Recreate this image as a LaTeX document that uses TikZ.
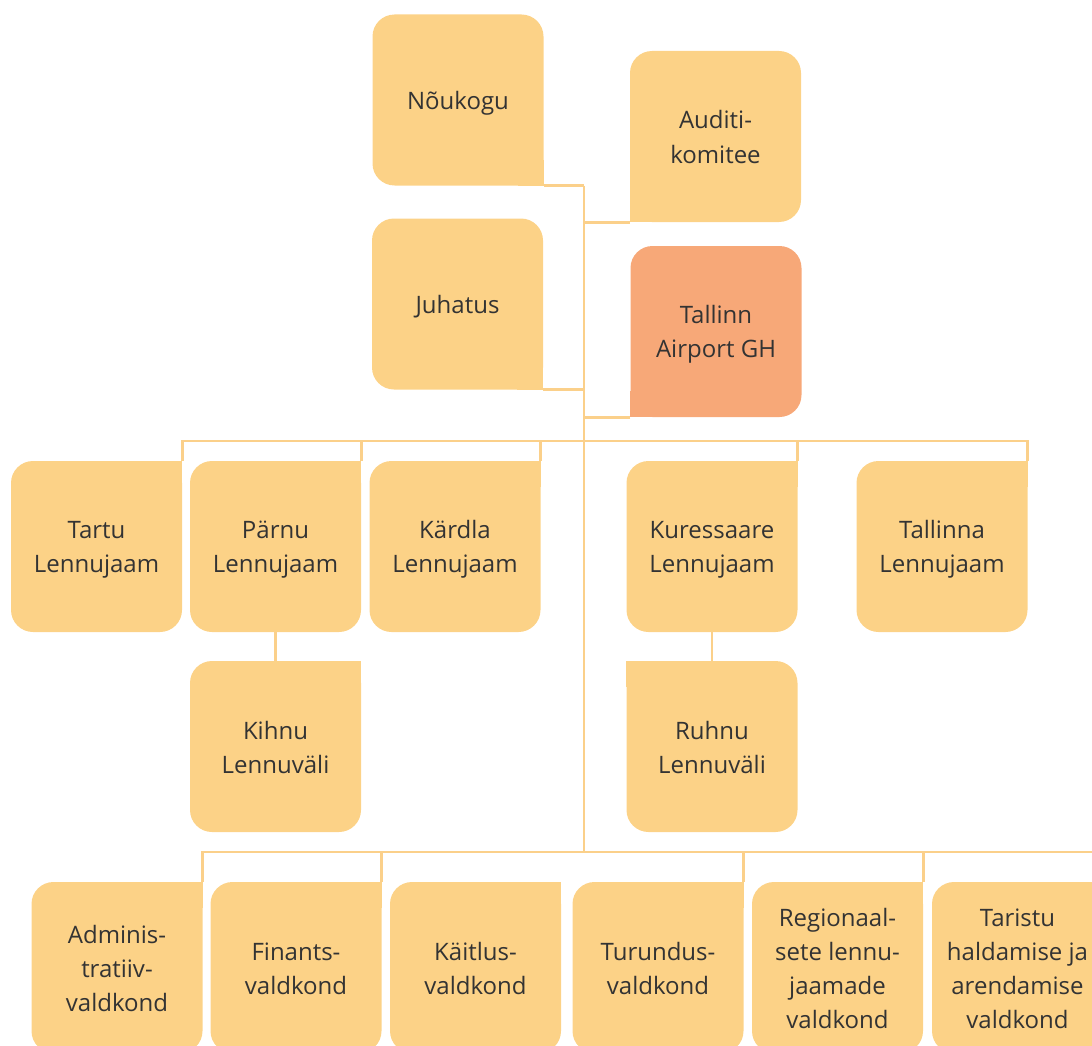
\documentclass[tikz,border=0pt]{standalone}
\usepackage{fontspec}
\setmainfont{Open Sans}
\usepackage{tikz}
\usetikzlibrary{calc}
\definecolor{boxfill}{RGB}{252,210,135}
\definecolor{ghfill}{RGB}{247,168,120}
\definecolor{linecol}{RGB}{251,208,138}
\definecolor{txt}{RGB}{51,51,51}
\newcommand{\tstrut}{\rule[-5pt]{0pt}{29pt}}

\begin{document}
\begin{tikzpicture}[
  x=1pt, y=-1pt,
  unit/.style={fill=#1, rounded corners=22pt, minimum width=171pt, minimum height=171pt,
    inner sep=0pt, align=center, text=txt, font=\fontsize{24}{34}\selectfont},
  unit/.default=boxfill,
  sq/.style 2 args={append after command={\pgfextra{\fill[#2, sharp corners]
    (\tikzlastnode.#1) rectangle ($(\tikzlastnode.center)!0.7!(\tikzlastnode.#1)$);}}},
  link/.style={draw=linecol, line width=2.6pt}
]
  \useasboundingbox (0,0) rectangle (1092,1046);

  \node[unit, sq={south east}{boxfill}] (nou) at (458, 100) {\tstrut Nõukogu};
  \node[unit, sq={south west}{boxfill}] (aud) at (715.5, 136.5) {\tstrut Auditi-\\komitee\tstrut};
  \node[unit, sq={south east}{boxfill}] (juh) at (457.5, 304) {\tstrut Juhatus};
  \node[unit=ghfill, sq={south west}{ghfill}] (gh) at (716, 331.5) {\tstrut Tallinn\\Airport GH\tstrut};

  \node[unit, sq={north east}{boxfill}] (j1) at (96.5, 546.5) {\tstrut Tartu\\Lennujaam\tstrut};
  \node[unit, sq={north east}{boxfill}] (j2) at (275.5, 546.5) {\tstrut Pärnu\\Lennujaam\tstrut};
  \node[unit, sq={north east}{boxfill}] (j3) at (455, 546.5) {\tstrut Kärdla\\Lennujaam\tstrut};
  \node[unit, sq={north east}{boxfill}] (j4) at (712, 546.5) {\tstrut Kuressaare\\Lennujaam\tstrut};
  \node[unit, sq={north east}{boxfill}] (j5) at (942, 546.5) {\tstrut Tallinna\\Lennujaam\tstrut};

  \node[unit, sq={north east}{boxfill}] (v1) at (275.5, 746.5) {\tstrut Kihnu\\Lennuväli\tstrut};
  \node[unit, sq={north west}{boxfill}] (v2) at (712, 746.5) {\tstrut Ruhnu\\Lennuväli\tstrut};

  \node[unit, sq={north east}{boxfill}] (d1) at (117, 967.5) {\tstrut Adminis-\\tratiiv-\\valdkond\tstrut};
  \node[unit, sq={north east}{boxfill}] (d2) at (296, 967.5) {\tstrut Finants-\\valdkond\tstrut};
  \node[unit, sq={north east}{boxfill}] (d3) at (475.5, 967.5) {\tstrut Käitlus-\\valdkond\tstrut};
  \node[unit, sq={north east}{boxfill}] (d4) at (658, 967.5) {\tstrut Turundus-\\valdkond\tstrut};
  \node[unit, sq={north east}{boxfill}] (d5) at (837.5, 967.5) {\tstrut Regionaal-\\sete lennu-\\jaamade\\valdkond\tstrut};
  \node[unit, sq={north east}{boxfill}] (d6) at (1017.5, 967.5) {\tstrut Taristu\\haldamise ja\\arendamise\\valdkond\tstrut};

  \coordinate (t0) at (584, 185.5);
  \coordinate (b1) at (584, 441);
  \coordinate (b2) at (584, 852);

  \draw[link] (t0) -- (b2);
  \draw[link] (nou.south east) -- (nou.south east -| t0);
  \draw[link] (aud.south west) -- (aud.south west -| t0);
  \draw[link] (juh.south east) -- (juh.south east -| t0);
  \draw[link] (gh.south west) -- (gh.south west -| t0);

  \draw[link] (j1.north east) |- (b1);
  \draw[link] (j2.north east) |- (b1);
  \draw[link] (j3.north east) |- (b1);
  \draw[link] (j4.north east) |- (b1);
  \draw[link] (j5.north east) |- (b1);
  \draw[link] (j2.south) -- (v1.north);
  \draw[link] (j4.south) -- (v2.north);

  \draw[link] (d1.north east) |- (b2);
  \draw[link] (d2.north east) |- (b2);
  \draw[link] (d4.north east) |- (b2);
  \draw[link] (d5.north east) |- (b2);
  \draw[link] (d6.north east) |- (b2);
\end{tikzpicture}
\end{document}
